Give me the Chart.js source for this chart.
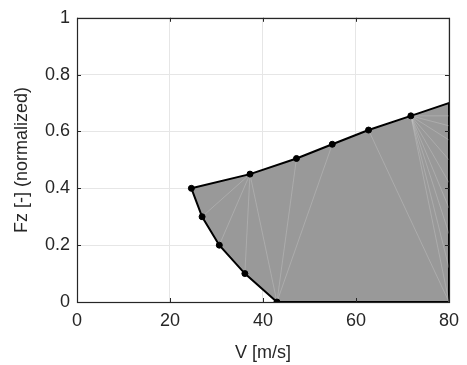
<!DOCTYPE html>
<html>
<head>
<meta charset="utf-8">
<script src="https://cdn.jsdelivr.net/npm/chart.js@4"></script>
<style>
html,body{margin:0;padding:0;background:#fff;}
#wrap{width:467px;height:365px;}
</style>
</head>
<body>
<div id="wrap"><canvas id="grafica" width="467" height="365"></canvas></div>
<script>
// outline of the region (V, Fz), going round clockwise
const bordeV=[24.6,37.2,47.2,54.9,62.7,71.8,80,80,43,36.1,30.6,26.9,24.6];
const bordeFz=[0.4,0.45,0.505,0.555,0.605,0.655,0.70,0,0,0.1,0.2,0.3,0.4];

// measured points (markers)
const puntosV=[24.6,26.9,30.6,36.1,43,37.2,47.2,54.9,62.7,71.8];
const puntosFz=[0.4,0.3,0.2,0.1,0,0.45,0.505,0.555,0.605,0.655];

// faint mesh edges, pairs of points, null breaks the line
const mallaV=[37.2,26.9,null,37.2,30.6,null,37.2,36.1,null,37.2,43,null,43,47.2,null,43,54.9,null,62.7,80,null,
  71.8,80,null,71.8,80,null,71.8,80,null,71.8,80,null,71.8,80,null,71.8,80,null,71.8,80,null,71.8,80,null,71.8,80];
const mallaFz=[0.45,0.3,null,0.45,0.2,null,0.45,0.1,null,0.45,0,null,0,0.505,null,0,0.555,null,0.605,0,null,
  0.655,0.655,null,0.655,0.62,null,0.655,0.57,null,0.655,0.5,null,0.655,0.42,null,0.655,0.33,null,0.655,0.24,null,0.655,0.12,null,0.655,0];

const xTicks=[0,20,40,60,80];
const yTicks=[0,0.2,0.4,0.6,0.8,1];

function pares(a,b){
    return a.map((v,i)=>v===null?{x:null,y:null}:{x:v,y:b[i]});
}

const ejes={
    id:'ejes',
    afterDatasetsDraw(chart){
        const c=chart.ctx, a=chart.chartArea;
        const sx=chart.scales.x, sy=chart.scales.y;
        c.save();
        c.strokeStyle='#262626';
        c.lineWidth=1;
        c.beginPath();
        xTicks.forEach(t=>{
            let px=Math.round(sx.getPixelForValue(t))+0.5;
            c.moveTo(px,a.bottom);c.lineTo(px,a.bottom-4);
            c.moveTo(px,a.top);c.lineTo(px,a.top+4);
        });
        yTicks.forEach(t=>{
            let py=Math.round(sy.getPixelForValue(t))+0.5;
            c.moveTo(a.left,py);c.lineTo(a.left+4,py);
            c.moveTo(a.right,py);c.lineTo(a.right-4,py);
        });
        c.stroke();
        c.lineWidth=1.2;
        c.strokeRect(Math.round(a.left)+0.5,Math.round(a.top)+0.5,Math.round(a.right-a.left),Math.round(a.bottom-a.top));
        c.restore();
    }
};

const fuente={family:'Liberation Sans',size:18};

window.onload=function(){
    const ctx=document.getElementById("grafica");
    new Chart(ctx,{
        type:'scatter',
        data:{
            datasets:[{
                data:pares(bordeV,bordeFz),
                showLine:true,
                fill:'shape',
                backgroundColor:'#999999',
                borderColor:'#000000',
                borderWidth:2,
                pointRadius:0,
                order:3
            },{
                data:pares(mallaV,mallaFz),
                showLine:true,
                spanGaps:false,
                borderColor:'rgba(225,225,225,0.45)',
                borderWidth:0.6,
                pointRadius:0,
                order:2
            },{
                data:pares(puntosV,puntosFz),
                showLine:false,
                pointRadius:3,
                pointBackgroundColor:'#000000',
                pointBorderColor:'#000000',
                order:1
            }]
        },
        options:{
            responsive:false,
            animation:false,
            layout:{padding:{top:11,right:14,left:0,bottom:0}},
            plugins:{legend:{display:false},tooltip:{enabled:false}},
            scales:{
                x:{
                    type:'linear',min:0,max:80,
                    afterFit(s){s.height=63;},
                    afterBuildTicks(s){s.ticks=xTicks.map(v=>({value:v}));},
                    ticks:{padding:8,color:'#262626',font:fuente},
                    grid:{color:'#e6e6e6',drawTicks:false},
                    border:{display:false},
                    title:{display:true,text:'V [m/s]',color:'#262626',font:fuente,padding:{top:0,bottom:1}}
                },
                y:{
                    type:'linear',min:0,max:1,
                    afterFit(s){s.width=77;},
                    afterBuildTicks(s){s.ticks=yTicks.map(v=>({value:v}));},
                    ticks:{padding:7,color:'#262626',font:fuente,callback:v=>String(+v.toFixed(1))},
                    grid:{color:'#e6e6e6',drawTicks:false},
                    border:{display:false},
                    title:{display:true,text:'Fz [-] (normalized)',color:'#262626',font:fuente,padding:{top:11,bottom:0}}
                }
            }
        },
        plugins:[ejes]
    });
};
</script>
</body>
</html>
